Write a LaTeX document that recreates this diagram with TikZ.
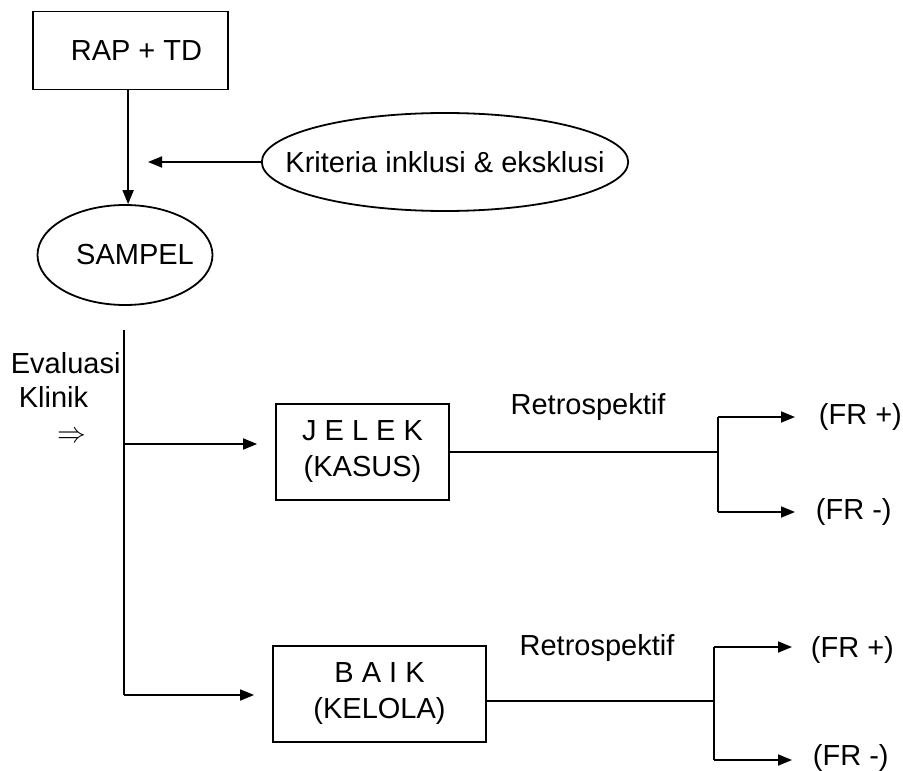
\documentclass[tikz,border=0pt]{standalone}
\usepackage{fontspec}
\setmainfont{Liberation Sans}
\usetikzlibrary{shapes.geometric,arrows.meta}
\tikzset{every path/.style={line width=0.9pt}}
\tikzset{kotak/.style={draw,rectangle,minimum width=#1,minimum height=48pt,align=center,inner sep=0pt}}
\tikzset{elips/.style={draw,ellipse,inner sep=0pt}}
\tikzset{teks/.style={inner sep=0pt}}
\tikzset{panah/.style={-{Triangle[length=7pt,width=5.5pt]}}}

\begin{document}
\begin{tikzpicture}[x=0.5pt,y=-0.5pt,font=\fontsize{14.5}{18}\selectfont]
\useasboundingbox (0,0) rectangle (903,770);
\node[kotak=97.5pt,minimum height=39pt] (rap) at (130.5,50.5) {\hspace{6pt}RAP + TD};
\node[elips,inner xsep=-5pt,minimum width=87.5pt,minimum height=50pt] (sampel) at (125,255) {\hspace{10pt}SAMPEL};
\node[elips,inner xsep=-15pt,minimum width=182.5pt,minimum height=49pt] (krit) at (445,162) {Kriteria inklusi \& eksklusi};
\coordinate (kritujung) at (148,162);
\draw[panah] ([xshift=-1.2pt]rap.south) -- ([xshift=-1.2pt]rap.south |- sampel.north);
\draw[panah] (krit.west) -- (kritujung);
%\node at (60,300) {};
\node[teks,anchor=west] (eval) at (10,363) {Evaluasi};
\node[teks,anchor=west] (klinik) at (18,397) {Klinik};
\node[teks] (tanda) at (72,437) {$\Rightarrow$};
\coordinate (atas) at (124,330);
\coordinate (cabang) at (124,444);
\coordinate (bawah) at (124,695);
\draw (atas) -- (bawah);
\node[kotak=86.5pt] (jelek) at (362.5,452) {J E L E K\\(KASUS)};
\node[kotak=106.5pt] (baik) at (379.5,694) {B A I K\\(KELOLA)};
\draw[panah,shorten >=9pt] (cabang) -- (cabang -| jelek.west);
\draw[panah,shorten >=9pt] (bawah) -- (bawah -| baik.west);
% retrospektif atas
\node[teks] (retro1) at (588,407) {Retrospektif};
\coordinate (pisah1) at (718,452);
\coordinate (p1a) at (718,417);
\coordinate (p1b) at (718,512);
\node[teks,anchor=west] (frp1) at (818,417) {(FR +)};
\node[teks,anchor=west] (frm1) at (815,512) {(FR -)};
\draw (jelek.east) -- (pisah1);
\draw (p1a) -- (p1b);
\draw[panah,shorten >=11.5pt] (p1a) -- (frp1.west);
\draw[panah,shorten >=10pt] (p1b) -- (frm1.west);
% retrospektif bawah
\node[teks] (retro2) at (597,648) {Retrospektif};
\coordinate (pisah2) at (714,701);
\coordinate (p2a) at (714,647);
\coordinate (p2b) at (714,760);
\node[teks,anchor=west] (frp2) at (810,650) {(FR +)};
\node[teks,anchor=west] (frm2) at (812,758) {(FR -)};
\draw (baik.east |- pisah2) -- (pisah2);
\draw (p2a) -- (p2b);
\draw[panah,shorten >=9pt] (p2a) -- (p2a -| frp2.west);
\draw[panah,shorten >=10pt] (p2b) -- (p2b -| frm2.west);
\end{tikzpicture}
\end{document}
